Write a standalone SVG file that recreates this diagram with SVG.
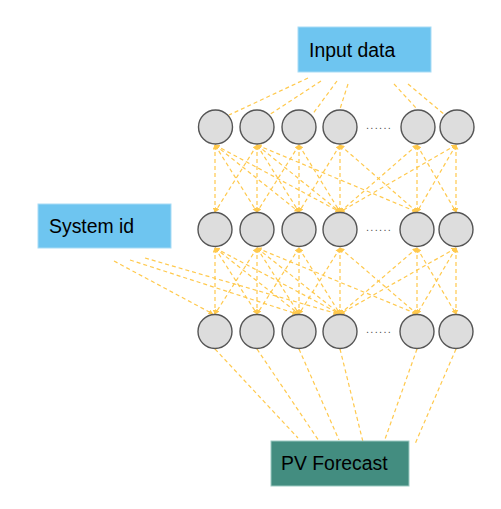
<svg xmlns="http://www.w3.org/2000/svg" width="501" height="509" viewBox="0 0 501 509">
<style>
.lbl{font-family:"Liberation Sans",Arial,sans-serif;font-size:19.4px;fill:#000}
.node circle{fill:#dddddd;stroke:#555555;stroke-width:1.4}
.c line{stroke:#ffc94d;stroke-width:1.2;stroke-dasharray:4 3;fill:none}
.c .a{marker-start:url(#ah);marker-end:url(#ah)}
.c .e{marker-end:url(#ah)}
.dots{font-family:"Liberation Sans",Arial,sans-serif;font-size:11px;fill:#555;letter-spacing:1.3px}
</style>
<defs>
<marker id="ah" viewBox="0 0 10 10" refX="9" refY="5" markerWidth="5" markerHeight="5" orient="auto-start-reverse" markerUnits="userSpaceOnUse">
<path d="M0,0 L10,5 L0,10 z" fill="#ffc94d"/>
</marker>
</defs>
<rect width="501" height="509" fill="#fff"/>

<g id="connectors" class="c">
<!-- input data to layer 1 -->
<line x1="308" y1="78" x2="229" y2="115"/>
<line x1="321" y1="81" x2="269" y2="115"/>
<line x1="337" y1="81" x2="312" y2="115"/>
<line x1="348" y1="84" x2="340" y2="109"/>
<line x1="394" y1="84" x2="417" y2="109"/>
<line x1="408" y1="84" x2="445" y2="115"/>
<!-- layer 1 to layer 2 -->
<line class="a" x1="215" y1="145" x2="215" y2="212"/>
<line class="a" x1="215" y1="145" x2="257" y2="212"/>
<line class="a" x1="215" y1="145" x2="299" y2="212"/>
<line class="a" x1="215" y1="145" x2="340" y2="212"/>
<line class="a" x1="257" y1="145" x2="215" y2="212"/>
<line class="a" x1="257" y1="145" x2="257" y2="212"/>
<line class="a" x1="257" y1="145" x2="299" y2="212"/>
<line class="a" x1="257" y1="145" x2="340" y2="212"/>
<line class="a" x1="257" y1="145" x2="417" y2="212"/>
<line class="a" x1="299" y1="145" x2="257" y2="212"/>
<line class="a" x1="299" y1="145" x2="299" y2="212"/>
<line class="a" x1="299" y1="145" x2="340" y2="212"/>
<line class="a" x1="340" y1="145" x2="299" y2="212"/>
<line class="a" x1="340" y1="145" x2="340" y2="212"/>
<line class="a" x1="340" y1="145" x2="417" y2="212"/>
<line class="a" x1="417" y1="145" x2="340" y2="212"/>
<line class="a" x1="417" y1="145" x2="417" y2="212"/>
<line class="a" x1="417" y1="145" x2="456" y2="212"/>
<line class="a" x1="456" y1="145" x2="340" y2="212"/>
<line class="a" x1="456" y1="145" x2="417" y2="212"/>
<line class="a" x1="456" y1="145" x2="456" y2="212"/>
<!-- layer 2 to layer 3 -->
<line class="a" x1="215" y1="248" x2="215" y2="314"/>
<line class="a" x1="215" y1="248" x2="257" y2="314"/>
<line class="a" x1="215" y1="248" x2="299" y2="314"/>
<line class="a" x1="215" y1="248" x2="340" y2="314"/>
<line class="a" x1="257" y1="248" x2="215" y2="314"/>
<line class="a" x1="257" y1="248" x2="257" y2="314"/>
<line class="a" x1="257" y1="248" x2="299" y2="314"/>
<line class="a" x1="257" y1="248" x2="340" y2="314"/>
<line class="a" x1="257" y1="248" x2="417" y2="314"/>
<line class="a" x1="299" y1="248" x2="257" y2="314"/>
<line class="a" x1="299" y1="248" x2="299" y2="314"/>
<line class="a" x1="299" y1="248" x2="340" y2="314"/>
<line class="a" x1="340" y1="248" x2="299" y2="314"/>
<line class="a" x1="340" y1="248" x2="340" y2="314"/>
<line class="a" x1="340" y1="248" x2="417" y2="314"/>
<line class="a" x1="417" y1="248" x2="340" y2="314"/>
<line class="a" x1="417" y1="248" x2="417" y2="314"/>
<line class="a" x1="417" y1="248" x2="456" y2="314"/>
<line class="a" x1="456" y1="248" x2="340" y2="314"/>
<line class="a" x1="456" y1="248" x2="417" y2="314"/>
<line class="a" x1="456" y1="248" x2="456" y2="314"/>
<!-- system id to layer 3 -->
<line class="e" x1="114" y1="261" x2="213" y2="314"/>
<line class="e" x1="130" y1="260" x2="297" y2="314"/>
<line class="e" x1="145" y1="258" x2="338" y2="314"/>
<!-- layer 3 to PV forecast -->
<line x1="215" y1="349" x2="298" y2="438"/>
<line x1="257" y1="349" x2="319" y2="441"/>
<line x1="299" y1="349" x2="339" y2="440"/>
<line x1="340" y1="349" x2="363" y2="442"/>
<line x1="417" y1="349" x2="384" y2="442"/>
<line x1="456" y1="349" x2="415" y2="444"/>
</g>

<g id="input-data">
<rect x="298" y="27" width="133" height="45" fill="#6ec5f0" stroke="#a8dbf5" stroke-width="1"/>
<text class="lbl" x="309" y="57">Input data</text>
</g>
<g id="system-id">
<rect x="38" y="204" width="133" height="44" fill="#6ec5f0" stroke="#a8dbf5" stroke-width="1"/>
<text class="lbl" x="49" y="233">System id</text>
</g>
<g id="pv-forecast">
<rect x="271" y="441" width="138" height="45" fill="#438d80" stroke="#9cc9c1" stroke-width="1"/>
<text class="lbl" x="281" y="470">PV Forecast</text>
</g>

<g id="layer1" class="node">
<circle cx="215.5" cy="127" r="17"/>
<circle cx="257" cy="127" r="17"/>
<circle cx="299" cy="127" r="17"/>
<circle cx="340" cy="127" r="17"/>
<circle cx="418" cy="127" r="17"/>
<circle cx="457" cy="127" r="17"/>
<text class="dots" x="366" y="129">......</text>
</g>
<g id="layer2" class="node">
<circle cx="215" cy="229.5" r="17"/>
<circle cx="257" cy="229.5" r="17"/>
<circle cx="299" cy="229.5" r="17"/>
<circle cx="340" cy="229.5" r="17"/>
<circle cx="417" cy="229.5" r="17"/>
<circle cx="456" cy="229.5" r="17"/>
<text class="dots" x="366" y="231">......</text>
</g>
<g id="layer3" class="node">
<circle cx="215" cy="331.5" r="17"/>
<circle cx="257" cy="331.5" r="17"/>
<circle cx="299" cy="331.5" r="17"/>
<circle cx="340" cy="331.5" r="17"/>
<circle cx="417" cy="331.5" r="17"/>
<circle cx="456" cy="331.5" r="17"/>
<text class="dots" x="366" y="333">......</text>
</g>
</svg>
